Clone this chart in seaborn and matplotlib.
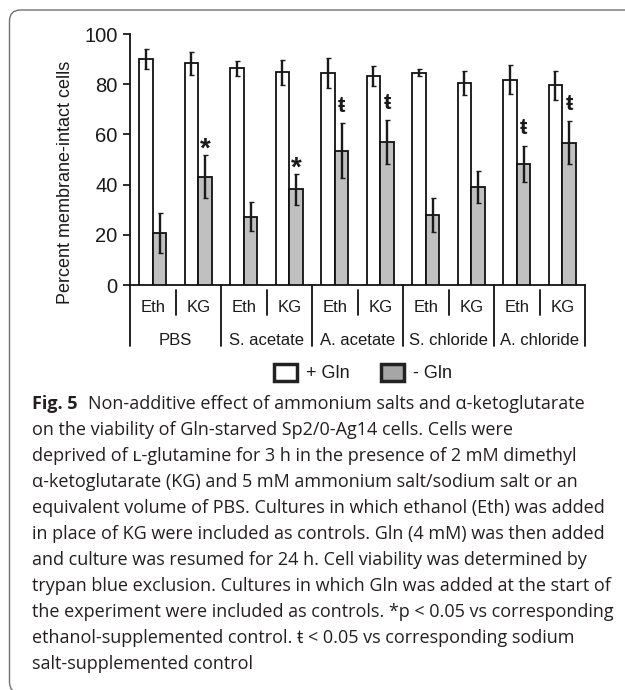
import numpy as np
import pandas as pd
import matplotlib
matplotlib.use("Agg")
import matplotlib.pyplot as plt
import seaborn as sns
from matplotlib.patches import Patch, FancyBboxPatch
from matplotlib.transforms import IdentityTransform, blended_transform_factory

# ---------------- data ----------------
groups = ["PBS", "S. acetate", "A. acetate", "S. chloride", "A. chloride"]
treatments = ["Eth", "KG"]
conditions = ["+ Gln", "- Gln"]
plus_gln = [90.0, 88.3, 86.3, 84.7, 84.3, 83.3, 84.6, 80.6, 81.7, 79.5]
plus_err = [4.0, 4.7, 3.0, 5.0, 6.0, 4.0, 1.5, 4.8, 5.8, 5.8]
minus_gln = [20.6, 43.2, 27.2, 38.1, 53.5, 57.0, 28.0, 39.2, 48.2, 56.7]
minus_err = [8.0, 8.6, 5.8, 6.3, 11.0, 8.7, 6.8, 6.4, 7.3, 8.6]
minus_marks = ["", "*", "", "*", "ŧ", "ŧ", "", "", "ŧ", "ŧ"]
y_ticks = [0, 20, 40, 60, 80, 100]
y_label = "Percent membrane-intact cells"

caption_bold = "Fig. 5"
caption_lines = [
    "Non-additive effect of ammonium salts and α-ketoglutarate",
    "on the viability of Gln-starved Sp2/0-Ag14 cells. Cells were",
    "deprived of ʟ-glutamine for 3 h in the presence of 2 mM dimethyl",
    "α-ketoglutarate (KG) and 5 mM ammonium salt/sodium salt or an",
    "equivalent volume of PBS. Cultures in which ethanol (Eth) was added",
    "in place of KG were included as controls. Gln (4 mM) was then added",
    "and culture was resumed for 24 h. Cell viability was determined by",
    "trypan blue exclusion. Cultures in which Gln was added at the start of",
    "the experiment were included as controls. *p < 0.05 vs corresponding",
    "ethanol-supplemented control. ŧ < 0.05 vs corresponding sodium",
    "salt-supplemented control",
]

# ---------------- figure ----------------
W, H, DPI = 625, 690, 100
sns.set_style("ticks")
plt.rcParams['font.family'] = ['Liberation Sans', 'DejaVu Sans']
TXT = "#1a1a1a"

fig = plt.figure(figsize=(W / DPI, H / DPI), dpi=DPI)


def px_axes(l, t, r, b):
    return [l / W, 1 - b / H, (r - l) / W, (b - t) / H]


ax = fig.add_axes(px_axes(130, 34, 585, 285))

keys = [f"{g}|{t}" for g in groups for t in treatments]
df = pd.DataFrame({
    "key": keys * 2,
    "condition": [conditions[0]] * len(keys) + [conditions[1]] * len(keys),
    "value": plus_gln + minus_gln,
})

sns.barplot(data=df, x="key", y="value", hue="condition", order=keys,
            hue_order=conditions,
            palette={conditions[0]: "white", conditions[1]: "#c0c0c0"},
            saturation=1, width=0.6, edgecolor="#111111", linewidth=1.3,
            errorbar=None, legend=False, ax=ax, zorder=3)

errs = [plus_err, minus_err]
vals = [plus_gln, minus_gln]
centers = []
for cont, v, e in zip(ax.containers, vals, errs):
    xs = [p.get_x() + p.get_width() / 2 for p in cont]
    centers.append(xs)
    ax.errorbar(xs, v, yerr=e, fmt="none", ecolor="#1a1a1a", elinewidth=1.7,
                capsize=1.8, capthick=1.0, zorder=5)

mark_style = {"*": dict(size=20, off=2.0), "ŧ": dict(size=16, off=6.8)}
for x, v, e, m in zip(centers[1], minus_gln, minus_err, minus_marks):
    if m:
        st = mark_style[m]
        ax.text(x, v + e + st["off"], m, ha="center", va="center",
                fontsize=st["size"], fontweight="bold", color=TXT, zorder=6)

ax.set_xlim(-0.5, len(keys) - 0.5)
ax.set_ylim(0, 100)
ax.set_yticks(y_ticks)
ax.set_xticks(range(len(keys)))
ax.set_xticklabels(treatments * len(groups), fontsize=12, color=TXT)
ax.tick_params(axis="x", length=0, pad=10.5)
ax.tick_params(axis="y", length=5, width=1.3, labelsize=14.5, pad=4,
               direction="out", colors=TXT)
for s in ["top", "right"]:
    ax.spines[s].set_visible(False)
for s in ["left", "bottom"]:
    ax.spines[s].set_linewidth(1.3)
    ax.spines[s].set_color("#111111")
ax.set_xlabel("")
ax.set_ylabel(y_label, fontsize=13, color=TXT)
ax.yaxis.set_label_coords(-0.124, 0.408)

# table-like dividers under the axis
trans = blended_transform_factory(ax.transData, ax.transAxes)
for i in range(len(groups)):
    x = 2 * i + 0.5
    ax.plot([x, x], [-0.02, -0.12], transform=trans, clip_on=False,
            color="#111111", lw=1.3)
for i in range(len(groups) + 1):
    x = 2 * i - 0.5
    ax.plot([x, x], [0, -0.243], transform=trans, clip_on=False,
            color="#111111", lw=1.3)
for i, g in enumerate(groups):
    ax.text(2 * i + 0.5, -0.22, g, transform=trans, ha="center",
            va="center", fontsize=12, color=TXT)

# legend
handles = [Patch(facecolor="white", edgecolor="#222222", linewidth=2.5,
                 label=conditions[0]),
           Patch(facecolor="#a6a6a6", edgecolor="#222222", linewidth=2.5,
                 label=conditions[1])]
leg = fig.legend(handles=handles, loc="center",
                 bbox_to_anchor=(363 / W, 1 - 373 / H), ncol=2,
                 frameon=False, fontsize=13, handlelength=1.3,
                 handleheight=1.1, handletextpad=0.5, columnspacing=1.7,
                 borderpad=0, borderaxespad=0)
for t in leg.get_texts():
    t.set_color(TXT)

# caption
cap_family = ["Open Sans", "DejaVu Sans"]
CAP = "#231f20"
renderer = fig.canvas.get_renderer()
probe = fig.text(0, 0, caption_lines[4], fontsize=10, family=cap_family)
w10 = probe.get_window_extent(renderer).width
probe.remove()
cap_size = 10 * 576 / w10

x0 = 32
line_y0, line_dy = 404, 26.0
tb = fig.text(x0 / W, 1 - line_y0 / H, caption_bold, fontsize=cap_size,
              family=cap_family, fontweight="bold", va="center", color=CAP)
wb = tb.get_window_extent(renderer).width
for i, line in enumerate(caption_lines):
    y = line_y0 + i * line_dy
    xx = x0 + (wb + 0.6 * cap_size * DPI / 72 if i == 0 else 0)
    fig.text(xx / W, 1 - y / H, line, fontsize=cap_size, family=cap_family,
             va="center", color=CAP)

# rounded frame
frame = FancyBboxPatch((9.5, -3), 700, 683,
                       boxstyle="round,pad=0,rounding_size=11",
                       transform=IdentityTransform(), facecolor="none",
                       edgecolor="#707070", linewidth=1.0)
fig.add_artist(frame)

fig.savefig("out.png", dpi=DPI)
